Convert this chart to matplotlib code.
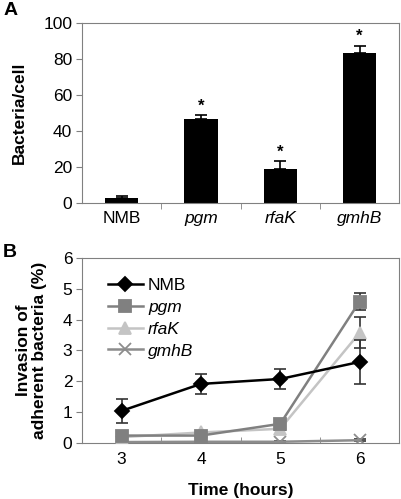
import numpy as np
import matplotlib.pyplot as plt

plt.rcParams['font.family'] = ['Liberation Sans', 'DejaVu Sans']

# Panel A data --------------------------------------------------------
strains = ['NMB', 'pgm', 'rfaK', 'gmhB']
bact_per_cell = [2.6, 46.5, 19.0, 83.5]
bact_err = [1.5, 2.2, 4.3, 3.7]
signif = [False, True, True, True]

# Panel B data --------------------------------------------------------
hours = [3, 4, 5, 6]
inv_nmb = [1.05, 1.92, 2.08, 2.63]
inv_nmb_err = [0.38, 0.32, 0.32, 0.71]
inv_pgm = [0.25, 0.25, 0.63, 4.58]
inv_pgm_err = [0.05, 0.05, 0.05, 0.27]
inv_rfak = [0.20, 0.35, 0.47, 3.57]
inv_rfak_err = [0.05, 0.05, 0.05, 0.50]
inv_gmhb = [0.04, 0.05, 0.05, 0.10]
inv_gmhb_err = [0.02, 0.02, 0.02, 0.03]

frame = '#808080'
fs = 12.5

fig = plt.figure(figsize=(4.02, 4.99), dpi=100)

# Panel A -------------------------------------------------------------
axA = fig.add_axes([0.204, 0.593, 0.789, 0.361])
xA = np.arange(len(strains))
axA.bar(xA, bact_per_cell, width=0.42, color='black', zorder=2)
axA.errorbar(xA, bact_per_cell, yerr=[np.zeros(4), bact_err], fmt='none',
             ecolor='black', elinewidth=1.2, capsize=4, capthick=1.2, zorder=3)
for i in range(len(strains)):
    if signif[i]:
        axA.text(xA[i], bact_per_cell[i] + bact_err[i] + 1.0, '*',
                 ha='center', va='bottom', fontsize=12, fontweight='bold')
axA.set_xlim(-0.5, 3.5)
axA.set_ylim(0, 100)
axA.set_yticks([0, 20, 40, 60, 80, 100])
axA.set_xticks(xA)
axA.set_xticklabels(strains)
for lab in axA.get_xticklabels()[1:]:
    lab.set_style('italic')
axA.tick_params(axis='x', length=0, pad=6, labelsize=fs)
axA.tick_params(axis='y', length=4, color=frame, labelsize=fs, pad=3)
axA.set_xticks([0.5, 1.5, 2.5], minor=True)
axA.tick_params(axis='x', which='minor', length=4, color=frame, direction='out')
for s in axA.spines.values():
    s.set_color(frame)
axA.set_ylabel('Bacteria/cell', fontsize=fs, fontweight='bold', labelpad=12)
fig.text(0.008, 0.996, 'A', fontsize=14, fontweight='bold', va='top')

# Panel B -------------------------------------------------------------
axB = fig.add_axes([0.204, 0.1116, 0.789, 0.372])
series = [
    (inv_gmhb, inv_gmhb_err, '#8c8c8c', 'x', 9, 'gmhB', 2),
    (inv_rfak, inv_rfak_err, '#c4c4c4', '^', 9, 'rfaK', 3),
    (inv_pgm, inv_pgm_err, '#808080', 's', 8.5, 'pgm', 4),
    (inv_nmb, inv_nmb_err, 'black', 'D', 7.5, 'NMB', 5),
]
for vals, err, col, mk, ms, lab, z in series:
    axB.errorbar(hours, vals, yerr=err, fmt='none', ecolor='#333333',
                 elinewidth=1.2, capsize=4, capthick=1.2, zorder=z)
    axB.plot(hours, vals, color=col, lw=1.8, marker=mk, ms=ms, mew=1.3,
             label=lab, zorder=z)
axB.set_xlim(2.5, 6.5)
axB.set_ylim(0, 6)
axB.set_xticks(hours)
axB.set_yticks(range(7))
axB.tick_params(axis='x', length=0, pad=6, labelsize=fs)
axB.tick_params(axis='y', length=4, color=frame, labelsize=fs, pad=3)
axB.set_xticks([3.5, 4.5, 5.5], minor=True)
axB.tick_params(axis='x', which='minor', length=4, color=frame, direction='in')
for s in axB.spines.values():
    s.set_color(frame)
axB.set_ylabel('Invasion of\nadherent bacteria (%)', fontsize=fs,
               fontweight='bold', labelpad=11, linespacing=1.1)
axB.set_xlabel('Time (hours)', fontsize=fs, fontweight='bold', labelpad=12)
handles, labels = axB.get_legend_handles_labels()
leg = axB.legend(handles[::-1], labels[::-1], loc='upper left', frameon=False,
                 fontsize=fs, handlelength=2.0, handletextpad=0.3,
                 labelspacing=0.38, borderpad=0, borderaxespad=0,
                 bbox_to_anchor=(0.082, 0.89))
for t in leg.get_texts()[1:]:
    t.set_style('italic')
fig.text(0.008, 0.512, 'B', fontsize=14, fontweight='bold', va='top')

fig.savefig('out.png', dpi=100)
